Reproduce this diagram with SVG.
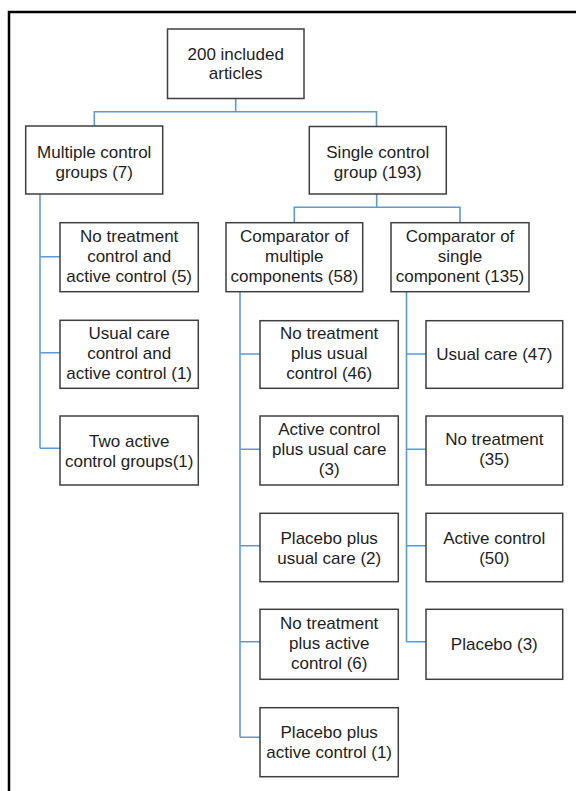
<svg xmlns="http://www.w3.org/2000/svg" width="576" height="791" viewBox="0 0 576 791">
<style>
.box{fill:#fff;stroke:#3f3f3f;stroke-width:1.5}
.t{font-family:"Liberation Sans",Arial,sans-serif;font-size:17px;fill:#1e1e1e;text-anchor:middle}
.c{fill:none;stroke:#5b9bd5;stroke-width:1.6}
.frame{fill:none;stroke:#000;stroke-width:2.5}
</style>
<rect width="576" height="791" fill="#fff"/>
<path class="frame" d="M9,791 V12 H576"/>
<g id="connectors">
<path class="c" d="M235.7,98.5 V111.7 M94.3,126 V111.7 H376.5 V126.5"/>
<path class="c" d="M40,194 V448.3 M40,256.7 H60 M40,352.7 H60 M40,448.3 H60"/>
<path class="c" d="M376.7,194 V207.3 M294.3,222.7 V207.3 H460 V222.7"/>
<path class="c" d="M240,291.7 V737.3 M240,354 H260 M240,449.3 H260 M240,545.7 H260 M240,641.7 H260 M240,737.3 H260"/>
<path class="c" d="M406.5,291.7 V641.7 M406.5,354 H426 M406.5,449.3 H426 M406.5,545.7 H426 M406.5,641.7 H426"/>
</g>
<g id="root"><rect class="box" x="167.5" y="29" width="136.5" height="69.5"/>
<text class="t" x="235.7" y="59.5">200 included</text><text class="t" x="235.7" y="79">articles</text></g>
<g id="multiple"><rect class="box" x="25.7" y="126" width="137" height="68"/>
<text class="t" x="94.2" y="157.5">Multiple control</text><text class="t" x="94.2" y="177.5">groups (7)</text></g>
<g id="single"><rect class="box" x="309.3" y="126.5" width="137" height="67.5"/>
<text class="t" x="377.8" y="157.5">Single control</text><text class="t" x="377.8" y="177.5">group (193)</text></g>
<g id="left1"><rect class="box" x="60" y="222.7" width="138.3" height="69"/>
<text class="t" x="129.2" y="242">No treatment</text><text class="t" x="129.2" y="262">control and</text><text class="t" x="129.2" y="282">active control (5)</text></g>
<g id="left2"><rect class="box" x="60" y="320.3" width="138.3" height="68"/>
<text class="t" x="129.2" y="339">Usual care</text><text class="t" x="129.2" y="359">control and</text><text class="t" x="129.2" y="379">active control (1)</text></g>
<g id="left3"><rect class="box" x="60" y="416" width="138.3" height="69"/>
<text class="t" x="129.2" y="446.5">Two active</text><text class="t" x="129.2" y="466.5">control groups(1)</text></g>
<g id="compMulti"><rect class="box" x="226" y="222.7" width="136.7" height="69"/>
<text class="t" x="294.3" y="242">Comparator of</text><text class="t" x="294.3" y="262">multiple</text><text class="t" x="294.3" y="282">components (58)</text></g>
<g id="compSingle"><rect class="box" x="391" y="222.7" width="138" height="69"/>
<text class="t" x="460" y="242">Comparator of</text><text class="t" x="460" y="262">single</text><text class="t" x="460" y="282">component (135)</text></g>
<g id="midA"><rect class="box" x="260" y="320.7" width="138.3" height="67.6"/>
<text class="t" x="329.2" y="339">No treatment</text><text class="t" x="329.2" y="359">plus usual</text><text class="t" x="329.2" y="379">control (46)</text></g>
<g id="midB"><rect class="box" x="260" y="416" width="138.3" height="69"/>
<text class="t" x="329.2" y="435">Active control</text><text class="t" x="329.2" y="455">plus usual care</text><text class="t" x="329.2" y="475">(3)</text></g>
<g id="midC"><rect class="box" x="260" y="513.3" width="138.3" height="68.4"/>
<text class="t" x="329.2" y="543.5">Placebo plus</text><text class="t" x="329.2" y="563.5">usual care (2)</text></g>
<g id="midD"><rect class="box" x="260" y="609.3" width="138.3" height="70"/>
<text class="t" x="329.2" y="629">No treatment</text><text class="t" x="329.2" y="649">plus active</text><text class="t" x="329.2" y="669">control (6)</text></g>
<g id="midE"><rect class="box" x="260" y="707.7" width="138.3" height="69"/>
<text class="t" x="329.2" y="738">Placebo plus</text><text class="t" x="329.2" y="758">active control (1)</text></g>
<g id="rightA"><rect class="box" x="426" y="320.7" width="136.7" height="67.6"/>
<text class="t" x="494.3" y="360">Usual care (47)</text></g>
<g id="rightB"><rect class="box" x="426" y="416" width="136.7" height="69"/>
<text class="t" x="494.3" y="445">No treatment</text><text class="t" x="494.3" y="465">(35)</text></g>
<g id="rightC"><rect class="box" x="426" y="513.3" width="136.7" height="68.4"/>
<text class="t" x="494.3" y="543.5">Active control</text><text class="t" x="494.3" y="563.5">(50)</text></g>
<g id="rightD"><rect class="box" x="426" y="609.3" width="136.7" height="70"/>
<text class="t" x="494.3" y="650">Placebo (3)</text></g>
</svg>
